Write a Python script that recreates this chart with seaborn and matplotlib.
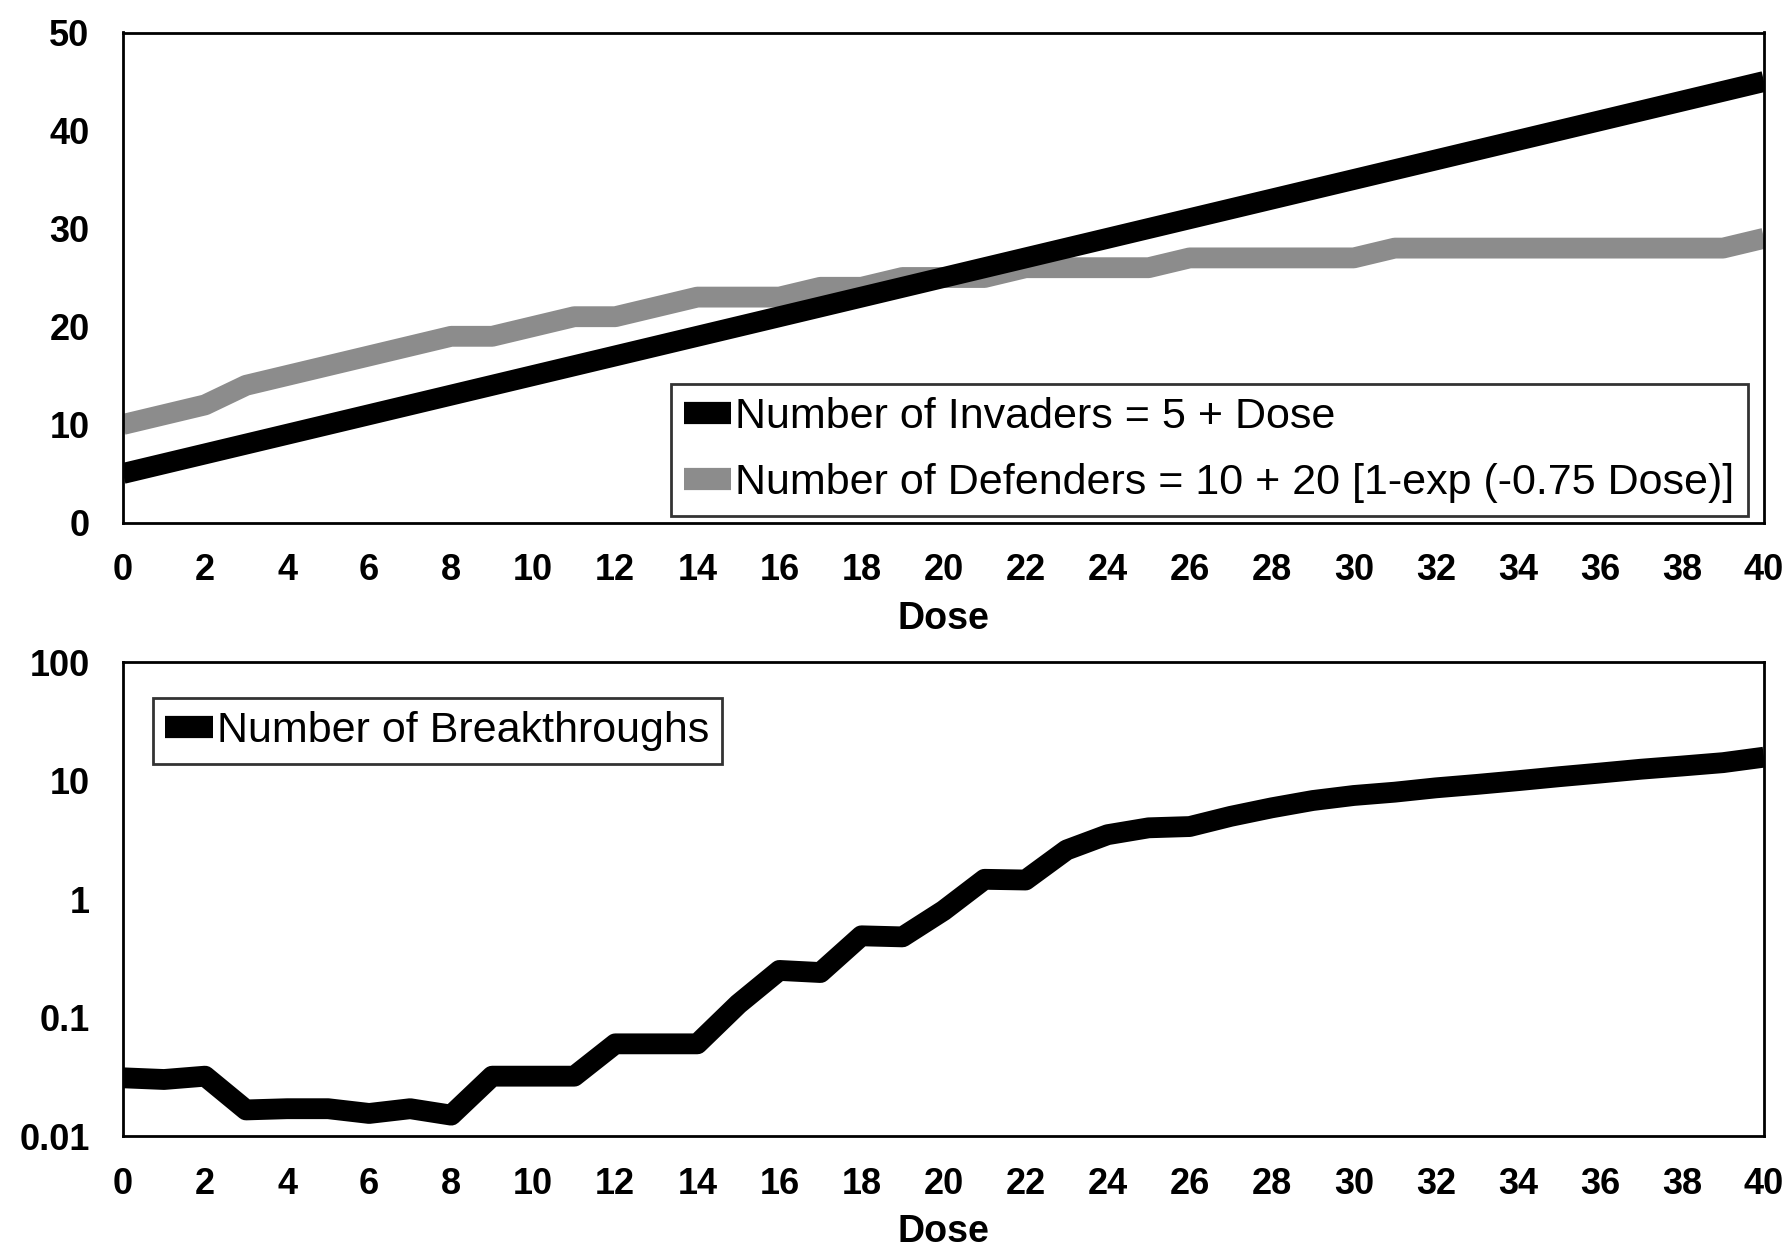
import numpy as np
import pandas as pd
import matplotlib
matplotlib.use("Agg")
import matplotlib.pyplot as plt
import seaborn as sns

dose = list(range(0, 41))
invaders = [5 + d for d in dose]
defenders = [10, 11, 12, 14, 15, 16, 17, 18, 19, 19, 20, 21, 21, 22, 23, 23, 23, 24, 24, 25,
             25, 25, 26, 26, 26, 26, 27, 27, 27, 27, 27, 28, 28, 28, 28, 28, 28, 28, 28, 28, 29]
breakthroughs = [0.031, 0.030, 0.032, 0.0166, 0.017, 0.017, 0.0155, 0.017, 0.015, 0.032,
                 0.032, 0.032, 0.060, 0.060, 0.060, 0.13, 0.25, 0.24, 0.49, 0.48,
                 0.80, 1.47, 1.45, 2.6, 3.5, 4.0, 4.1, 5.0, 5.9, 6.8,
                 7.5, 8.0, 8.7, 9.3, 10.0, 10.8, 11.6, 12.5, 13.3, 14.2, 15.8]

x_ticks = list(range(0, 41, 2))
top_yticks = [0, 10, 20, 30, 40, 50]
bot_yticks = [0.01, 0.1, 1, 10, 100]
bot_yticklabels = ["0.01", "0.1", "1", "10", "100"]

label_inv = "Number of Invaders = 5 + Dose"
label_def = "Number of Defenders = 10 + 20 [1-exp (-0.75 Dose)]"
label_brk = "Number of Breakthroughs"

sns.set_style("white")
plt.rcParams["font.family"] = ["Liberation Sans", "DejaVu Sans"]
plt.rcParams["text.color"] = "black"
plt.rcParams["xtick.color"] = "black"
plt.rcParams["ytick.color"] = "black"
plt.rcParams["axes.labelcolor"] = "black"

df_top = pd.DataFrame({"Dose": dose, "inv": invaders, "def": defenders})
df_bot = pd.DataFrame({"Dose": dose, "brk": breakthroughs})

fig = plt.figure(figsize=(17.9, 12.5), dpi=100)
ax1 = fig.add_axes([0.0687, 0.582, 0.9168, 0.392])
ax2 = fig.add_axes([0.0687, 0.0912, 0.9168, 0.379])

lw = 15
sns.lineplot(data=df_top, x="Dose", y="def", ax=ax1, color="#8c8c8c", linewidth=lw,
             label=label_def, legend=False)
sns.lineplot(data=df_top, x="Dose", y="inv", ax=ax1, color="black", linewidth=lw,
             label=label_inv, legend=False)
sns.lineplot(data=df_bot, x="Dose", y="brk", ax=ax2, color="black", linewidth=lw,
             label=label_brk, legend=False)

for ln in ax1.get_lines() + ax2.get_lines():
    ln.set_solid_capstyle("butt")
    ln.set_solid_joinstyle("round")
    ln.set_clip_on(True)

ax1.set_xlim(0, 40)
ax1.set_ylim(0, 50)
ax1.set_xticks(x_ticks)
ax1.set_yticks(top_yticks)
ax2.set_yscale("log")
ax2.set_xlim(0, 40)
ax2.set_ylim(0.01, 100)
ax2.set_xticks(x_ticks)
ax2.set_yticks(bot_yticks)
ax2.set_yticklabels(bot_yticklabels)
ax2.yaxis.set_minor_locator(matplotlib.ticker.NullLocator())

for ax in (ax1, ax2):
    ax.set_xlabel("Dose", fontsize=27, fontweight="bold", labelpad=9)
    ax.set_ylabel("")
    ax.tick_params(axis="x", length=0, labelsize=26, pad=22)
    ax.tick_params(axis="y", length=0, labelsize=26, pad=24)
    for lab in ax.get_xticklabels() + ax.get_yticklabels():
        lab.set_fontweight("bold")
    for sp in ax.spines.values():
        sp.set_visible(True)
        sp.set_color("black")
        sp.set_linewidth(2)
    ax.grid(False)

h_inv = [l for l in ax1.get_lines() if l.get_label() == label_inv][0]
h_def = [l for l in ax1.get_lines() if l.get_label() == label_def][0]
leg1 = ax1.legend([h_inv, h_def], [label_inv, label_def], loc="lower right",
                  bbox_to_anchor=(0.99, 0.013), fontsize=31, frameon=True, fancybox=False,
                  handlelength=1.1, handletextpad=0.1, borderpad=0.3, labelspacing=0.6,
                  borderaxespad=0)
leg1.get_frame().set_edgecolor("black")
leg1.get_frame().set_linewidth(2)
for h in leg1.legend_handles:
    h.set_linewidth(16)
    h.set_solid_capstyle("butt")

h_brk = ax2.get_lines()[0]
leg2 = ax2.legend([h_brk], [label_brk], loc="upper left", bbox_to_anchor=(0.018, 0.925),
                  fontsize=31, frameon=True, fancybox=False, handlelength=1.1,
                  handletextpad=0.1, borderpad=0.3, borderaxespad=0)
leg2.get_frame().set_edgecolor("black")
leg2.get_frame().set_linewidth(2)
for h in leg2.legend_handles:
    h.set_linewidth(16)
    h.set_solid_capstyle("butt")

fig.savefig("out.png", dpi=100, facecolor="white")
